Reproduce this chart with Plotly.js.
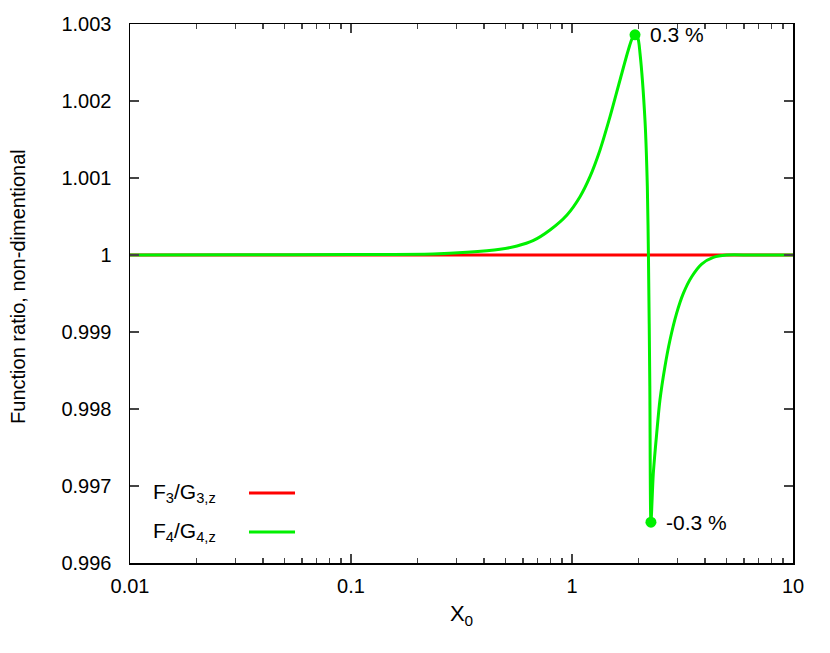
<!DOCTYPE html>
<html>
<head>
<meta charset="utf-8">
<script src="https://cdn.plot.ly/plotly-3.0.1.min.js"></script>
<style>
  html, body { margin: 0; padding: 0; background: #fff; }
  #graph { width: 830px; height: 653px; }
</style>
</head>
<body>
<div id="graph"></div>
<script>
// F3/G3,z stays at exactly 1 over the whole range
const redX = [0.01, 0.1, 1, 10];
const redY = [1, 1, 1, 1];

// F4/G4,z
const greenX = [0.01, 0.03, 0.1, 0.235, 0.335, 0.472, 0.564, 0.666, 0.795, 0.949, 1.087, 1.206,
                1.339, 1.486, 1.649, 1.798, 1.87, 1.928, 1.985, 2.031, 2.139, 2.192, 2.217,
                2.25, 2.276, 2.333, 2.417, 2.5, 2.633, 2.776, 2.973, 3.19, 3.48, 3.86, 4.36,
                5.0, 6.5, 10];
const greenY = [1.0, 1.000002, 1.000006, 1.000013, 1.000035, 1.000074, 1.000117, 1.000186,
                1.000325, 1.00052, 1.000757, 1.001017, 1.001364, 1.001796, 1.002273, 1.002662,
                1.00281, 1.00286, 1.00282, 1.00262, 1.00175, 1.00089, 1.00002, 0.9983, 0.99653,
                0.997165, 0.997684, 0.998117, 0.99855, 0.998896, 0.999242, 0.999502, 0.999718,
                0.999883, 0.99997, 1.0, 1.0, 1.0];

// extrema marked on the curve
const peakX = [1.928, 2.276];
const peakY = [1.00286, 0.99653];
const peakLabels = ['0.3 %', '-0.3 %'];

const yTicks = [0.996, 0.997, 0.998, 0.999, 1, 1.001, 1.002, 1.003];
const yTickText = ['0.996', '0.997', '0.998', '0.999', '1', '1.001', '1.002', '1.003'];
const xTicks = [0.01, 0.1, 1, 10];
const xTickText = ['0.01', '0.1', '1', '10'];

const legendNames = ['F<sub>3</sub>/G<sub>3,z</sub>', 'F<sub>4</sub>/G<sub>4,z</sub>'];
const legendColors = ['#ff0000', '#00f000'];

const font = { family: 'Liberation Sans, Arial, sans-serif', size: 20, color: '#000' };
const bigFont = Object.assign({}, font, { size: 21 });

const traces = [
    { x: redX, y: redY, type: 'scatter', mode: 'lines',
      line: { color: legendColors[0], width: 3 }, hoverinfo: 'skip' },
    { x: greenX, y: greenY, type: 'scatter', mode: 'lines',
      line: { color: legendColors[1], width: 3, shape: 'spline', smoothing: 0.8 } },
    { x: peakX, y: peakY, type: 'scatter', mode: 'markers',
      marker: { color: legendColors[1], size: 11 } }
];

const annotations = peakX.map((x, i) => ({
    x: Math.log10(x), y: peakY[i], xref: 'x', yref: 'y',
    text: peakLabels[i], showarrow: false, xanchor: 'left', xshift: 13,
    font: bigFont
}));

const shapes = [];
legendNames.forEach((name, i) => {
    const yy = [0.1299, 0.0575][i];
    annotations.push({
        x: 0.031, y: yy, xref: 'paper', yref: 'paper', text: name,
        showarrow: false, xanchor: 'left', yanchor: 'middle', font: bigFont
    });
    shapes.push({
        type: 'line', xref: 'paper', yref: 'paper',
        x0: 0.1795, x1: 0.2489, y0: yy, y1: yy,
        line: { color: legendColors[i], width: 3 }
    });
});

// y title placed by hand, like the original
annotations.push({
    x: -0.169, y: 0.514, xref: 'paper', yref: 'paper',
    xanchor: 'center', yanchor: 'middle',
    text: 'Function ratio, non-dimentional', textangle: -90,
    showarrow: false, font: font
});

Plotly.newPlot('graph', traces, {
    width: 830,
    height: 653,
    margin: { l: 130, r: 37, t: 24, b: 90 },
    paper_bgcolor: '#fff',
    plot_bgcolor: '#fff',
    showlegend: false,
    font: font,
    xaxis: {
        type: 'log',
        range: [-2, 1],
        tickvals: xTicks,
        ticktext: xTickText,
        ticks: 'inside',
        ticklen: 9,
        tickwidth: 1.3,
        ticklabelstandoff: 4,
        showline: true,
        linecolor: '#000',
        linewidth: 1.5,
        mirror: 'allticks',
        showgrid: false,
        zeroline: false,
        minor: { ticks: 'inside', ticklen: 5, tickwidth: 1.3, dtick: 'D1', showgrid: false },
        title: { text: 'X<sub>0</sub>', font: Object.assign({}, font, { size: 22 }), standoff: 10 }
    },
    yaxis: {
        range: [0.996, 1.003],
        tickvals: yTicks,
        ticktext: yTickText,
        ticks: 'inside',
        ticklen: 9,
        tickwidth: 1.3,
        ticklabelstandoff: 13,
        showline: true,
        linecolor: '#000',
        linewidth: 1.5,
        mirror: 'allticks',
        showgrid: false,
        zeroline: false
    },
    annotations: annotations,
    shapes: shapes
}, { staticPlot: true });
</script>
</body>
</html>
